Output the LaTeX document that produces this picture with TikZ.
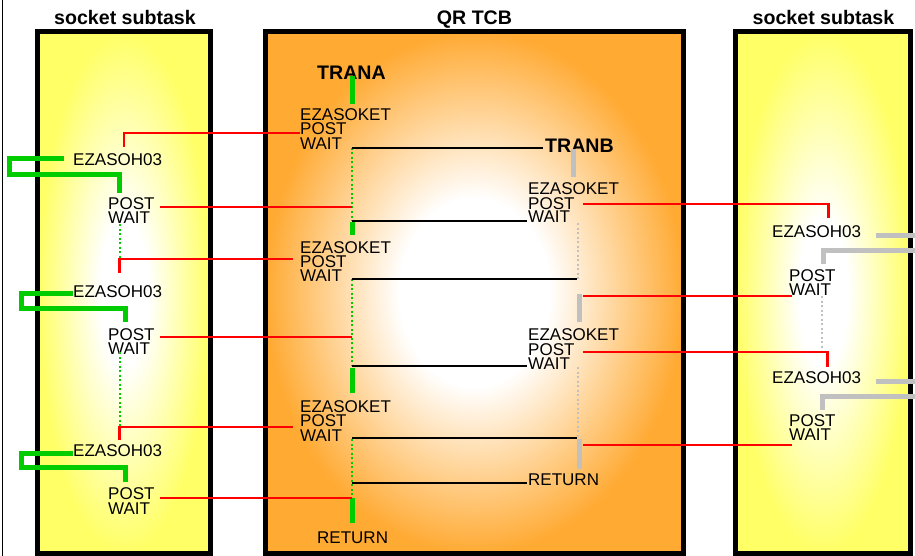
\documentclass[tikz,border=0pt]{standalone}
\usepackage{fontspec}
\setmainfont{Liberation Sans}
\definecolor{ora}{HTML}{FFAA33}
\definecolor{yel}{HTML}{FFFF66}
\definecolor{grn}{HTML}{00CC00}
\definecolor{gry}{HTML}{C0C0C0}
\pgfdeclareradialshading{yshade}{\pgfpoint{0bp}{0bp}}{color(0bp)=(white); color(7bp)=(white); color(25bp)=(yel); color(50bp)=(yel)}
\pgfdeclareradialshading{oshade}{\pgfpoint{0bp}{0bp}}{color(0bp)=(white); color(9bp)=(white); color(25bp)=(ora); color(50bp)=(ora)}
\begin{document}
\begin{tikzpicture}[x=1pt,y=-1pt,
  lbl/.style={inner sep=0pt,anchor=base west,font=\fontsize{17}{17}\selectfont},
  ttl/.style={inner sep=0pt,anchor=base,font=\bfseries\fontsize{19.6}{20}\selectfont},
  trn/.style={inner sep=0pt,anchor=base west,font=\bfseries\fontsize{19.6}{20}\selectfont},
  frame/.style={line width=5pt,draw=black},
  gbar/.style={line width=5pt,draw=grn},
  gdot/.style={line width=2pt,draw=grn,dash pattern=on 2pt off 2.5pt},
  sbar/.style={line width=5pt,draw=gry},
  sdot/.style={line width=2pt,draw=gry,dash pattern=on 2pt off 2.5pt},
  sig/.style={line width=2.4pt,draw=red},
  flow/.style={line width=2.4pt,draw=black}]
\useasboundingbox (0,0) rectangle (915,556);
\fill[white] (0,0) rectangle (915,556);
\draw[line width=1pt] (2,0) -- (2,556);

% boxes
\shade[shading=yshade] (37.5,31.5) rectangle (210.5,553.5);
\shade[shading=oshade] (265.5,31.5) rectangle (683.5,553.5);
\shade[shading=yshade] (735.5,31.5) rectangle (910.5,553.5);
\draw[frame] (37.5,31.5) rectangle (210.5,553.5);
\draw[frame] (265.5,31.5) rectangle (683.5,553.5);
\draw[frame] (735.5,31.5) rectangle (910.5,553.5);

% titles
\node[ttl] (tl) at (125,25) {socket subtask};
\node[ttl] (tm) at (474.5,25) {QR TCB};
\node[ttl] (tr) at (823.5,25) {socket subtask};
\node[trn] (trana) at (317,80) {TRANA};
\node[trn] (tranb) at (545,153) {TRANB};

% left subtask texts
\node[lbl] (l1e) at (73,166) {EZASOH03};
\node[lbl] (l1p) at (108,209.3) {POST};
\node[lbl] (l1w) at (108,223) {WAIT};
\node[lbl] (l2e) at (73,297) {EZASOH03};
\node[lbl] (l2p) at (108,340) {POST};
\node[lbl] (l2w) at (108,354.5) {WAIT};
\node[lbl] (l3e) at (73,456) {EZASOH03};
\node[lbl] (l3p) at (108,499.5) {POST};
\node[lbl] (l3w) at (108,514) {WAIT};

% TRANA texts
\node[lbl] (a1e) at (300,120.7) {EZASOKET};
\node[lbl] (a1p) at (300,135) {POST};
\node[lbl] (a1w) at (300,150) {WAIT};
\node[lbl] (a2e) at (300,253) {EZASOKET};
\node[lbl] (a2p) at (300,267) {POST};
\node[lbl] (a2w) at (300,281.5) {WAIT};
\node[lbl] (a3e) at (300,412.7) {EZASOKET};
\node[lbl] (a3p) at (300,426.7) {POST};
\node[lbl] (a3w) at (300,441.5) {WAIT};
\node[lbl] (ar) at (317,543.3) {RETURN};

% TRANB texts
\node[lbl] (b1e) at (528,194.3) {EZASOKET};
\node[lbl] (b1p) at (528,209) {POST};
\node[lbl] (b1w) at (528,222.7) {WAIT};
\node[lbl] (b2e) at (528,340) {EZASOKET};
\node[lbl] (b2p) at (528,355) {POST};
\node[lbl] (b2w) at (528,369) {WAIT};
\node[lbl] (br) at (528,485) {RETURN};

% right subtask texts
\node[lbl] (r1e) at (772,237.3) {EZASOH03};
\node[lbl] (r1p) at (789,281.7) {POST};
\node[lbl] (r1w) at (789,295) {WAIT};
\node[lbl] (r2e) at (772,383.3) {EZASOH03};
\node[lbl] (r2p) at (789,426.7) {POST};
\node[lbl] (r2w) at (789,440.7) {WAIT};

% left subtask green loops and dotted waits
\draw[gbar] (64,159) -- (9.5,159) -- (9.5,174.5) -- (119.5,174.5) -- (119.5,193);
\draw[gbar] (73,293) -- (21,293) -- (21,308) -- (125.5,308) -- (125.5,322);
\draw[gbar] (73,453.5) -- (21,453.5) -- (21,467.5) -- (125.5,467.5) -- (125.5,482);
\draw[gdot] (119.5,224) -- (119.5,259);
\draw[gdot] (119.5,352) -- (119.5,426);

% TRANA lifeline
\draw[gbar] (352,76) -- (352,104);
\draw[gdot] (352,148) -- (352,221);
\draw[gbar] (352,222) -- (352,235);
\draw[gdot] (352,279) -- (352,366);
\draw[gbar] (352,368) -- (352,393);
\draw[gdot] (352,439) -- (352,497);
\draw[gbar] (352,498) -- (352,523);

% TRANB lifeline
\draw[sbar] (573.5,149) -- (573.5,177);
\draw[sdot] (578.3,223) -- (578.3,279);
\draw[sbar] (579.3,294) -- (579.3,322);
\draw[sdot] (578.3,367) -- (578.3,437);
\draw[sbar] (579.3,439) -- (579.3,468.5);

% right subtask grey loops and dotted wait
\draw[sbar] (876,235) -- (916,235);
\draw[sbar] (916,250) -- (823,250) -- (823,264);
\draw[sbar] (876,381) -- (916,381);
\draw[sbar] (916,396) -- (822.5,396) -- (822.5,410);
\draw[sdot] (822,296) -- (822,350);

% dispatch (black) lines
\draw[flow] (352,148) -- (543,148);
\draw[flow] (352,221) -- (527,221);
\draw[flow] (352,279) -- (577,279);
\draw[flow] (352,366) -- (527,366);
\draw[flow] (352,438) -- (577,438);
\draw[flow] (352,483) -- (527,483);

% red signals
\draw[sig] (124,147) -- (124,133.3) -- (300,133.3);
\draw[sig] (160,207) -- (352,207);
\draw[sig] (119.5,273) -- (119.5,259) -- (293,259);
\draw[sig] (160,337) -- (352,337);
\draw[sig] (119.5,440) -- (119.5,427) -- (293,427);
\draw[sig] (160,497.7) -- (352,497.7);
\draw[sig] (583,204.3) -- (828.3,204.3) -- (828.3,218.3);
\draw[sig] (583,296) -- (792,296);
\draw[sig] (583,351.7) -- (827.3,351.7) -- (827.3,366.7);
\draw[sig] (583,445) -- (792,445);
\end{tikzpicture}
\end{document}
